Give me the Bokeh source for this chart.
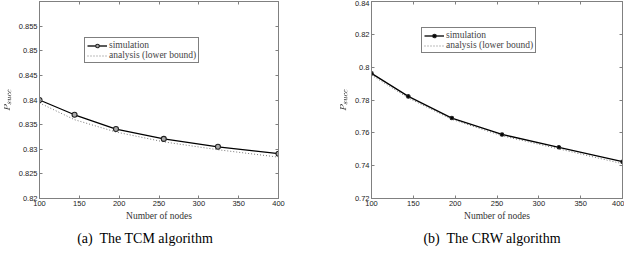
from bokeh.plotting import figure
from bokeh.layouts import row, column
from bokeh.models import Range1d, FixedTicker, LinearAxis, Legend, LegendItem, Div
from bokeh.embed import file_html
from bokeh.resources import INLINE

nodes = [100, 144, 196, 256, 324, 400]
tcm_sim = [0.8400, 0.8370, 0.8341, 0.8321, 0.8305, 0.8291]
tcm_ana = [0.8394, 0.8360, 0.8335, 0.8315, 0.8299, 0.8284]
crw_sim = [0.7962, 0.7822, 0.7690, 0.7590, 0.7512, 0.7424]
crw_ana = [0.7952, 0.7812, 0.7682, 0.7582, 0.7502, 0.7412]
x_ticks = [100, 150, 200, 250, 300, 350, 400]
tcm_yticks = [0.82, 0.825, 0.83, 0.835, 0.84, 0.845, 0.85, 0.855]
crw_yticks = [0.72, 0.74, 0.76, 0.78, 0.80, 0.82, 0.84]
captions = ["(a)&nbsp; The TCM algorithm", "(b)&nbsp; The CRW algorithm"]

SERIF = "Liberation Serif"
SANS = "Liberation Sans"
GRAY = "#808080"


def style_axis(ax, ticks, show_labels=True):
    ax.ticker = FixedTicker(ticks=ticks)
    ax.axis_line_color = GRAY
    ax.major_tick_line_color = GRAY
    ax.major_tick_in = 3
    ax.major_tick_out = 0
    ax.minor_tick_line_color = None
    ax.major_label_text_font = SANS
    ax.major_label_text_font_size = "7.5px"
    ax.major_label_text_color = "#222222"
    ax.major_label_standoff = 2
    if not show_labels:
        ax.major_label_overrides = {t: "" for t in ticks}
        ax.major_label_standoff = 0


def panel(sim, ana, yr, yticks, msize, mfill, lb, rb, leg_xy):
    p = figure(width=312, height=228, x_range=Range1d(100, 400), y_range=Range1d(*yr),
               output_backend="svg", toolbar_location=None,
               min_border_top=1, min_border_left=lb, min_border_right=rb, min_border_bottom=30)
    p.xgrid.visible = False
    p.ygrid.visible = False
    p.outline_line_color = GRAY
    p.background_fill_color = "white"
    p.border_fill_color = "white"
    style_axis(p.xaxis[0], x_ticks)
    style_axis(p.yaxis[0], yticks)
    p.xaxis.axis_label = "Number of nodes"
    p.xaxis.axis_label_text_font = SERIF
    p.xaxis.axis_label_text_font_style = "normal"
    p.xaxis.axis_label_text_font_size = "9.5px"
    p.xaxis.axis_label_text_color = "#333333"
    p.xaxis.axis_label_standoff = 2
    p.yaxis.axis_label = r"$$P_{succ}$$"
    p.yaxis.axis_label_text_font = SERIF
    p.yaxis.axis_label_text_font_style = "italic"
    p.yaxis.axis_label_text_font_size = "9px"
    p.yaxis.axis_label_text_color = "#333333"
    p.yaxis.axis_label_standoff = 2

    ax_top = LinearAxis()
    style_axis(ax_top, x_ticks, show_labels=False)
    p.add_layout(ax_top, "above")
    ax_right = LinearAxis()
    style_axis(ax_right, yticks, show_labels=False)
    p.add_layout(ax_right, "right")

    ra = p.line(nodes, ana, line_color="#777777", line_width=1, line_dash="1 2")
    rs = p.line(nodes, sim, line_color="black", line_width=1.3)
    rm = p.scatter(nodes, sim, marker="circle", size=msize, line_color="#222222",
                   fill_color=mfill, line_width=1.1)

    leg = Legend(items=[LegendItem(label="simulation", renderers=[rs, rm]),
                        LegendItem(label="analysis (lower bound)", renderers=[ra])],
                 location=leg_xy, border_line_color="black", border_line_width=1,
                 background_fill_color="white", background_fill_alpha=1,
                 label_text_font=SERIF, label_text_font_size="9.5px",
                 glyph_width=20, glyph_height=9, label_height=9, label_standoff=2,
                 spacing=0, padding=2, margin=0)
    p.add_layout(leg, "center")
    return p


p1 = panel(tcm_sim, tcm_ana, (0.82, 0.86), tcm_yticks, 5, "#aaaaaa", 0, 34, (45, 135))
p2 = panel(crw_sim, crw_ana, (0.72, 0.84), crw_yticks, 3.5, "black", 59, 2, (50, 145))


def caption_html(t, w):
    return ('<div style="width: %dpx; font-family: \'Liberation Serif\', \'Times New Roman\', serif; '
            'font-size: 14px; line-height: 22px; text-align: center; color: black; '
            'white-space: nowrap;">' % w + t + '</div>')


d1 = Div(text=caption_html(captions[0], 290), width=290, height=17, margin=0)
d2 = Div(text=caption_html(captions[1], 200), width=200, height=17, margin=(0, 0, 0, 102))

layout = column(row(p1, p2), row(d1, d2), spacing=0)
open("out.html", "w").write(file_html(layout, INLINE))
